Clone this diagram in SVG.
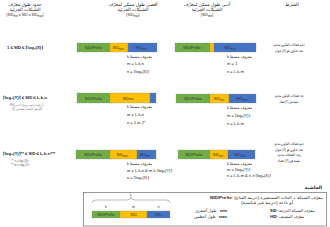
<svg xmlns="http://www.w3.org/2000/svg" width="330" height="227" viewBox="0 0 330 227">
<style>
text{font-family:"Liberation Sans","DejaVu Sans","Noto Sans",sans-serif;fill:#222}
.h{font-size:4.6px;text-anchor:middle}
.c{font-size:4px;text-anchor:middle;direction:rtl}
.b{font-size:4px}
.bb{font-size:4.2px;font-weight:bold}
.lbl{font-size:3.8px;text-anchor:middle;fill:#333}
.sm{font-size:2.6px;text-anchor:middle;fill:#555;direction:rtl}
.g{fill:#70ad47}
.y{fill:#ffc000}
.u{fill:#4472c4}
.bar rect{stroke:#8a8a8a;stroke-width:0.3}
.sub{font-size:2.6px}
</style>
<rect width="330" height="227" fill="#fff"/>

<g id="header">
<text class="h" x="25" y="6">حدود طول معرّف</text>
<text class="h" x="25" y="11">الشبكات الجزئية</text>
<text class="h" x="25" y="16" style="font-size:3.6px">(SID<tspan class="sub" dy="0.8">min</tspan><tspan dy="-0.8"> ≤ SID ≤ SID</tspan><tspan class="sub" dy="0.8">max</tspan><tspan dy="-0.8">)</tspan></text>
<text class="h" x="133" y="6">أقصى طول ممكن لمعرّف</text>
<text class="h" x="133" y="11">الشبكات الجزئية</text>
<text class="h" x="133" y="16" style="font-size:3.6px">(SID<tspan class="sub" dy="0.8">max</tspan><tspan dy="-0.8">)</tspan></text>
<text class="h" x="207" y="6">أدنى طول ممكن لمعرّف</text>
<text class="h" x="207" y="11">الشبكات الجزئية</text>
<text class="h" x="207" y="16" style="font-size:3.6px">(SID<tspan class="sub" dy="0.8">min</tspan><tspan dy="-0.8">)</tspan></text>
<text class="h" x="292" y="6">الشرط</text>
</g>

<g id="row1-range"><text class="bb" x="7" y="48.5">1 ≤ SID ≤ ⌈log₂(X)⌉</text></g>
<g id="row1-max" class="bar">
<rect class="g" x="77" y="43" width="33" height="9"/>
<rect class="y" x="110" y="43" width="18" height="9"/>
<rect class="u" x="128" y="43" width="29" height="9"/>
<text class="lbl" x="93.5" y="49">NID/Prefix</text>
<text class="lbl" x="118" y="49">SID<tspan class="sub" dy="0.8">max</tspan></text>
<text class="lbl" x="141" y="49">HID<tspan class="sub" dy="0.8">min</tspan></text>
<text class="b" x="127" y="58" textLength="25" lengthAdjust="spacingAndGlyphs">k معروف مسبقا</text>
<text class="b" x="127" y="65">m = L-k-n</text>
<text class="b" x="127" y="73">n = ⌈log₂(X)⌉</text>
</g>
<g id="row1-min" class="bar">
<rect class="g" x="175" y="43" width="35" height="9"/>
<rect class="y" x="210" y="43" width="4" height="9"/>
<rect class="u" x="214" y="43" width="42" height="9"/>
<text class="lbl" x="192" y="49">NID/Prefix</text>
<text class="lbl" x="230" y="49">HID<tspan class="sub" dy="0.8">max</tspan></text>
<text class="b" x="227" y="58" textLength="25" lengthAdjust="spacingAndGlyphs">k معروف مسبقا</text>
<text class="b" x="227" y="65">m = 1</text>
<text class="b" x="227" y="73">n = L-k-m</text>
</g>
<g id="row1-cond">
<text class="c" x="289" y="46" textLength="32" lengthAdjust="spacingAndGlyphs">حجم فضاءات العناوين محدود</text>
<text class="c" x="289" y="52" textLength="28" lengthAdjust="spacingAndGlyphs">بعدد عناوين هو (X) عنوان</text>
</g>

<g id="row2-range">
<text class="bb" x="3" y="98.5">⌈log₂(Y)⌉ ≤ SID ≤ L-k-n</text>
<text class="sm" x="27" y="106" textLength="34" lengthAdjust="spacingAndGlyphs">*في الإصدار الرابع من بروتوكول الإنترنت (IPv4)</text>
<text class="sm" x="27" y="110" textLength="30" lengthAdjust="spacingAndGlyphs">(2) وفي الإصدار السادس (1)</text>
</g>
<g id="row2-max" class="bar">
<rect class="g" x="77" y="93" width="33" height="10"/>
<rect class="y" x="110" y="93" width="40" height="10"/>
<rect class="u" x="150" y="93" width="6" height="10"/>
<text class="lbl" x="93.5" y="99.5">NID/Prefix</text>
<text class="lbl" x="128" y="99.5">SID<tspan class="sub" dy="0.8">max</tspan></text>
<text class="b" x="127" y="108" textLength="25" lengthAdjust="spacingAndGlyphs">k معروف مسبقا</text>
<text class="b" x="127" y="116">m = L-k-n</text>
<text class="b" x="127" y="124">n = 1 or 2*</text>
</g>
<g id="row2-min" class="bar">
<rect class="g" x="176" y="94" width="34" height="9"/>
<rect class="y" x="210" y="94" width="19" height="9"/>
<rect class="u" x="229" y="94" width="27" height="9"/>
<text class="lbl" x="193" y="100">NID/Prefix</text>
<text class="lbl" x="219" y="100">SID<tspan class="sub" dy="0.8">min</tspan></text>
<text class="lbl" x="242" y="100">HID<tspan class="sub" dy="0.8">max</tspan></text>
<text class="b" x="227" y="109" textLength="25" lengthAdjust="spacingAndGlyphs">k معروف مسبقا</text>
<text class="b" x="227" y="117">m = ⌈log₂(Y)⌉</text>
<text class="b" x="227" y="125">n = L-k-m</text>
</g>
<g id="row2-cond">
<text class="c" x="289" y="97" textLength="29" lengthAdjust="spacingAndGlyphs">عدد فضاءات العناوين محدود</text>
<text class="c" x="289" y="103" textLength="19" lengthAdjust="spacingAndGlyphs">بقيمة هي (Y) فضاء</text>
</g>

<g id="row3-range">
<text class="bb" x="3" y="154.5">⌈log₂(Y)⌉** ≤ SID ≤ L-k-n***</text>
<text class="sm" x="20" y="162" style="direction:ltr">** n ≥ ⌈log₂(X)⌉</text>
<text class="sm" x="20" y="166" style="direction:ltr">*** m ≥ ⌈log₂(Y)⌉</text>
</g>
<g id="row3-max" class="bar">
<rect class="g" x="76" y="150" width="34" height="9"/>
<rect class="y" x="110" y="150" width="27" height="9"/>
<rect class="u" x="137" y="150" width="19" height="9"/>
<text class="lbl" x="93" y="156">NID/Prefix</text>
<text class="lbl" x="122" y="156">SID<tspan class="sub" dy="0.8">max</tspan></text>
<text class="lbl" x="145" y="156">HID<tspan class="sub" dy="0.8">min</tspan></text>
<text class="b" x="127" y="165" textLength="25" lengthAdjust="spacingAndGlyphs">k معروف مسبقا</text>
<text class="b" x="127" y="172">m = L-k-n &amp; m ≥ ⌈log₂(Y)⌉</text>
<text class="b" x="127" y="179">n = ⌈log₂(X)⌉</text>
</g>
<g id="row3-min" class="bar">
<rect class="g" x="178" y="150" width="32" height="9"/>
<rect class="y" x="210" y="150" width="18" height="9"/>
<rect class="u" x="228" y="150" width="27" height="9"/>
<text class="lbl" x="194" y="156">NID/Prefix</text>
<text class="lbl" x="218" y="156">SID<tspan class="sub" dy="0.8">min</tspan></text>
<text class="lbl" x="240" y="156">HID<tspan class="sub" dy="0.8">max</tspan></text>
<text class="b" x="227" y="165" textLength="25" lengthAdjust="spacingAndGlyphs">k معروف مسبقا</text>
<text class="b" x="227" y="171">m = ⌈log₂(Y)⌉</text>
<text class="b" x="227" y="177">n = L-k-m &amp; n ≥ ⌈log₂(X)⌉</text>
</g>
<g id="row3-cond">
<text class="c" x="289" y="145" textLength="30" lengthAdjust="spacingAndGlyphs">حجم فضاءات العناوين محدود</text>
<text class="c" x="289" y="150.5" textLength="28" lengthAdjust="spacingAndGlyphs">بعدد عناوين هو (X) عنوان</text>
<text class="c" x="289" y="156" textLength="23" lengthAdjust="spacingAndGlyphs">وعدد الفضاءات محدود</text>
<text class="c" x="289" y="161.5" textLength="22" lengthAdjust="spacingAndGlyphs">بقيمة هي (Y) فضاء</text>
</g>

<g id="legend">
<text class="h" x="322" y="189" style="text-anchor:end;font-weight:bold">الحاشية</text>
<rect x="83.5" y="192.5" width="243" height="33.5" fill="none" stroke="#555" stroke-width="0.6"/>
<path d="M92,203 Q92,200 96,200 L127,200 Q131,200 131,197 Q131,200 135,200 L166,200 Q170,200 170,203" fill="none" stroke="#555" stroke-width="0.4"/>
<text class="lbl" x="131" y="196">L</text>
<text class="lbl" x="106" y="208">k</text>
<text class="lbl" x="133.5" y="208">m</text>
<text class="lbl" x="158.5" y="208">n</text>
<g class="bar">
<rect class="g" x="92" y="211" width="28" height="7"/>
<rect class="y" x="120" y="211" width="27" height="7"/>
<rect class="u" x="147" y="211" width="23" height="7"/>
</g>
<text class="lbl" x="106" y="215.8">NID/Prefix</text>
<text class="lbl" x="133.5" y="215.8">SID</text>
<text class="lbl" x="158.5" y="215.8">HID</text>
<text class="b" x="227" y="212" style="text-anchor:end">طول أصغري : <tspan font-weight="bold">min</tspan></text>
<text class="b" x="227" y="218" style="text-anchor:end">طول أعظمي : <tspan font-weight="bold">max</tspan></text>
<text class="b" x="323" y="199" style="text-anchor:end" textLength="113" lengthAdjust="spacingAndGlyphs"><tspan font-weight="bold">NID/Prefix</tspan>: معرّف الشبكة + البتات المستعيرة (حزمة القناع)</text>
<text class="c" x="267" y="204" textLength="52" lengthAdjust="spacingAndGlyphs">أو بادئة (حزمة غير قياسية)</text>
<text class="b" x="270" y="212"><tspan font-weight="bold">SID</tspan>: معرّف الشبكة الجزئية</text>
<text class="b" x="270" y="218"><tspan font-weight="bold">HID</tspan>: معرّف المضيف</text>
</g>
</svg>
